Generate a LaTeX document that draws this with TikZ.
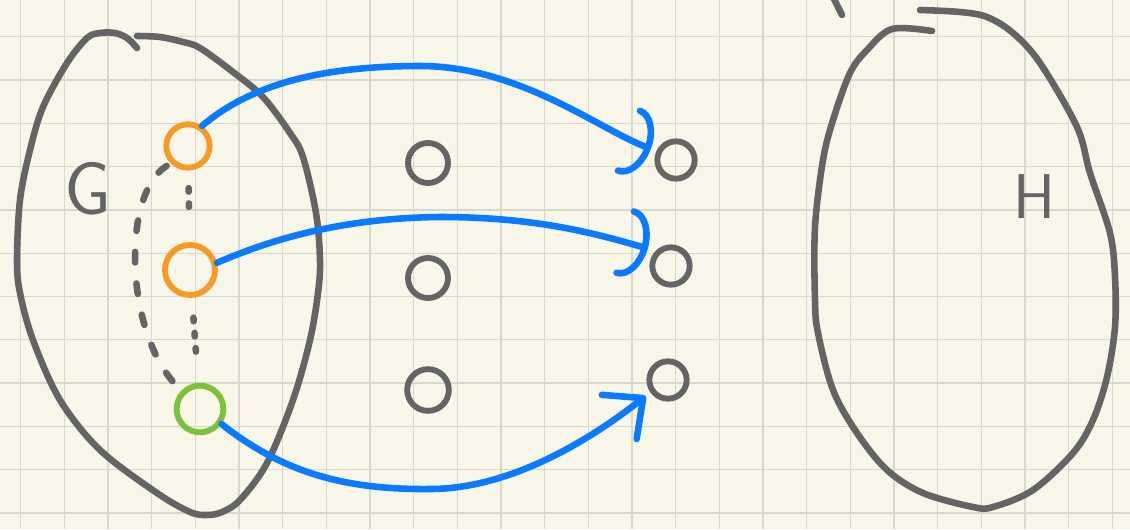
\documentclass[tikz,border=0pt]{standalone}
\usepackage{tikz}
\usepackage{xcolor}
\usetikzlibrary{
    arrows.meta     % For arrow tips like Arc Barb and Straight Barb
}
\definecolor{paper}{HTML}{F7F6E9}
\definecolor{gridline}{HTML}{D9D8CC}
\definecolor{pen}{HTML}{646464}
\definecolor{penblue}{HTML}{0A7BFF}
\definecolor{penorange}{HTML}{F59B25}
\definecolor{pengreen}{HTML}{7DC13B}

\begin{document}
\begin{tikzpicture}[
    x=0.03cm, y=-0.03cm,
    stroke/.style={line width=5.6pt, line cap=round, line join=round},
    blob/.style={stroke, draw=pen},
    vertex/.style={circle, draw=pen, line width=5pt, minimum size=1.12cm, inner sep=0pt},
    chosen/.style={vertex, draw=penorange},
    seed/.style={vertex, draw=pengreen},
    setname/.style={text=pen, font=\sffamily\fontsize{64}{64}\selectfont},
    mapping/.style={stroke, draw=penblue},
    curvedhead/.style={-{Arc Barb[length=20pt, width=60pt, round]}},
    straighthead/.style={-{Straight Barb[length=26pt, width=48pt, round]}},
    dotchain/.style={stroke, draw=pen, dash pattern=on 3pt off 10pt},
    dashchain/.style={stroke, draw=pen, dash pattern=on 9pt off 18pt}
]
    % Squared paper
    \fill[paper] (0,0) rectangle (1130,529);
    \useasboundingbox (0,0) rectangle (1130,529);
    \foreach \i in {0,...,25}
        \draw[gridline, line width=1.1pt] ({20.7+43.66*\i},0) -- ++(0,529);
    \foreach \j in {0,...,11}
        \draw[gridline, line width=1.1pt] (0,{36.7+43.3*\j}) -- ++(1130,0);

    % Set G
    \draw[blob] plot[smooth, tension=0.55] coordinates {
        (137,48) (127,38) (115,33) (100,33) (87,38) (67,63) (43,107) (30,150)
        (20,200) (17,260) (20,293) (33,340) (60,400) (100,450) (157,493)
        (190,512) (207,515) (222,512) (240,500) (267,463) (293,400) (310,340)
        (318,293) (320,260) (316,213) (303,157) (290,133) (263,97) (233,72)
        (200,48) (183,42) (160,37) (137,36)};
    \node[setname] (Glabel) at (88,189) {G};

    % Set H
    \draw[blob] plot[smooth, tension=0.55] coordinates {
        (932,31) (892,29) (867,50) (850,73) (833,120) (823,160) (815,227)
        (815,300) (818,333) (833,390) (857,433) (887,470) (923,493) (973,507)
        (993,507) (1033,490) (1073,453) (1093,420) (1107,377) (1115,327)
        (1115,277) (1110,233) (1090,173) (1077,127) (1040,63) (1013,33)
        (987,17) (960,12) (920,10)};
    \draw[blob] (833,-3) -- (842,15);
    \node[setname, font=\sffamily\fontsize{54}{54}\selectfont] (Hlabel) at (1034,197) {H};

    % Vertices of G
    \node[chosen, minimum size=1.3cm] (o1) at (188,146) {};
    \node[chosen, minimum size=1.5cm] (o2) at (190,270) {};
    \node[seed, minimum size=1.4cm] (g1) at (200,409) {};

    % Free vertices in the middle
    \node[vertex, minimum size=1.2cm] (m1) at (428,163) {};
    \node[vertex, minimum size=1.2cm] (m2) at (428,278) {};
    \node[vertex, minimum size=1.25cm] (m3) at (428,390) {};

    % Images
    \node[vertex] (t1) at (676,160) {};
    \node[vertex] (t2) at (671,266) {};
    \node[vertex] (t3) at (668,380) {};

    % Path inside G
    \draw[dotchain, shorten <=15pt, shorten >=24pt] (o1) -- (o2);
    \draw[dotchain, shorten <=17pt, shorten >=22pt] (o2) -- (g1);
    \draw[dashchain, shorten <=4pt] (o1.225) .. controls (120,195) and (125,340) .. (g1.135);

    % Map G -> H
    \draw[mapping, curvedhead, shorten >=5pt] (o1.55)
        .. controls (250,85) and (320,66) .. (420,66)
        .. controls (520,66) and (600,130) .. (t1.155);
    \draw[mapping, curvedhead, shorten >=7pt] (o2.15)
        .. controls (270,240) and (340,218) .. (440,217)
        .. controls (540,217) and (600,235) .. (t2.135);
    \draw[mapping, straighthead, shorten >=5pt] (g1.-35)
        .. controls (280,470) and (340,490) .. (430,489)
        .. controls (510,489) and (590,440) .. (t3.215);
\end{tikzpicture}
\end{document}
